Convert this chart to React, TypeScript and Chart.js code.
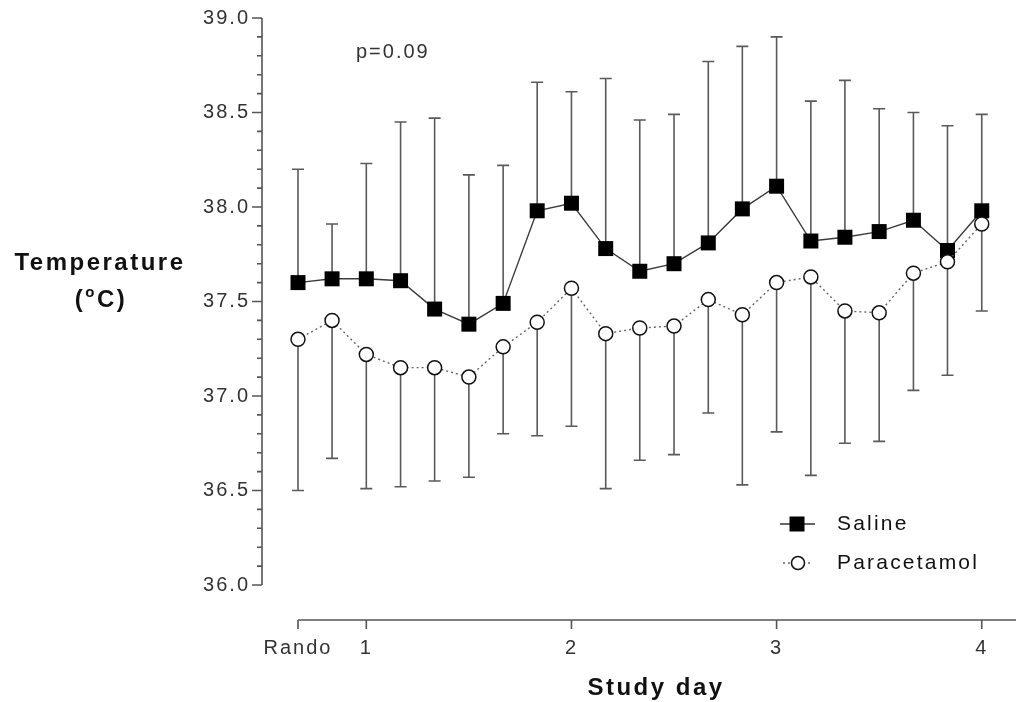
import React, { useEffect, useRef } from 'react';
import { Chart, registerables } from 'chart.js';

Chart.register(...registerables);

// Time points (study day; 4-hourly from randomisation)
const timePoints = [0.667, 0.833, 1.0, 1.167, 1.333, 1.5, 1.667, 1.833, 2.0, 2.167, 2.333, 2.5, 2.667, 2.833, 3.0, 3.167, 3.333, 3.5, 3.667, 3.833, 4.0];

const salineMean = [37.60, 37.62, 37.62, 37.61, 37.46, 37.38, 37.49, 37.98, 38.02, 37.78, 37.66, 37.70, 37.81, 37.99, 38.11, 37.82, 37.84, 37.87, 37.93, 37.77, 37.98];
const salineUpper = [38.20, 37.91, 38.23, 38.45, 38.47, 38.17, 38.22, 38.66, 38.61, 38.68, 38.46, 38.49, 38.77, 38.85, 38.90, 38.56, 38.67, 38.52, 38.50, 38.43, 38.49];

const paraMean = [37.30, 37.40, 37.22, 37.15, 37.15, 37.10, 37.26, 37.39, 37.57, 37.33, 37.36, 37.37, 37.51, 37.43, 37.60, 37.63, 37.45, 37.44, 37.65, 37.71, 37.91];
const paraLower = [36.50, 36.67, 36.51, 36.52, 36.55, 36.57, 36.80, 36.79, 36.84, 36.51, 36.66, 36.69, 36.91, 36.53, 36.81, 36.58, 36.75, 36.76, 37.03, 37.11, 37.45];

const xTickValues = [0.667, 1, 2, 3, 4];
const xTickLabels = ['Rando', '1', '2', '3', '4'];
const xMin = 0.667;
const xMax = 4.167;
const yMin = 36;
const yMax = 39;
const yMajorStep = 0.5;
const yMinorStep = 0.1;

const FONT = "'Liberation Sans', Arial, sans-serif";

const errorBarPlugin = {
  id: 'errorBars',
  beforeDatasetsDraw(chart: any) {
    const { ctx } = chart;
    const xs = chart.scales.x;
    const ys = chart.scales.y;
    ctx.save();
    ctx.strokeStyle = '#5a5a5a';
    ctx.lineWidth = 1.6;
    chart.data.datasets.forEach((ds: any) => {
      const ends: number[] = ds.errEnds;
      if (!ends) return;
      ds.data.forEach((pt: any, i: number) => {
        const px = xs.getPixelForValue(pt.x);
        const py0 = ys.getPixelForValue(pt.y);
        const py1 = ys.getPixelForValue(ends[i]);
        ctx.beginPath();
        ctx.moveTo(px, py0);
        ctx.lineTo(px, py1);
        ctx.moveTo(px - 6, py1);
        ctx.lineTo(px + 6, py1);
        ctx.stroke();
      });
    });
    ctx.restore();
  },
};

const decorPlugin = {
  id: 'decor',
  beforeDraw(chart: any) {
    chart.ctx.letterSpacing = '2px';
  },
  afterDraw(chart: any) {
    const { ctx } = chart;
    const xs = chart.scales.x;
    const ys = chart.scales.y;
    const area = chart.chartArea;
    ctx.save();
    ctx.strokeStyle = '#555';
    ctx.lineWidth = 1.6;

    // Y axis (detached to the left)
    const yAxisX = area.left - 36;
    const top = ys.getPixelForValue(yMax);
    const bottom = ys.getPixelForValue(yMin);
    ctx.beginPath();
    ctx.moveTo(yAxisX, top);
    ctx.lineTo(yAxisX, bottom);
    const nMinor = Math.round((yMax - yMin) / yMinorStep);
    const perMajor = Math.round(yMajorStep / yMinorStep);
    for (let k = 0; k <= nMinor; k++) {
      const py = ys.getPixelForValue(yMin + k * yMinorStep);
      const len = k % perMajor === 0 ? 10 : 5;
      ctx.moveTo(yAxisX - len, py);
      ctx.lineTo(yAxisX, py);
    }
    ctx.stroke();

    // X axis (detached below)
    const xAxisY = area.bottom + 35;
    ctx.beginPath();
    ctx.moveTo(xs.getPixelForValue(xMin), xAxisY);
    ctx.lineTo(xs.getPixelForValue(xMax), xAxisY);
    xTickValues.forEach((v) => {
      const px = xs.getPixelForValue(v);
      ctx.moveTo(px, xAxisY);
      ctx.lineTo(px, xAxisY + 9);
    });
    ctx.stroke();

    // Titles
    ctx.fillStyle = '#111';
    ctx.textAlign = 'center';
    ctx.textBaseline = 'middle';
    ctx.letterSpacing = '2.5px';
    ctx.font = `bold 24px ${FONT}`;
    ctx.fillText('Temperature', 100, 263);
    // (°C) with superscript o
    const parts = [
      { t: '(', f: `bold 24px ${FONT}`, dy: 0 },
      { t: 'o', f: `bold 15px ${FONT}`, dy: -7 },
      { t: 'C)', f: `bold 24px ${FONT}`, dy: 0 },
    ];
    let total = 0;
    parts.forEach((p) => { ctx.font = p.f; total += ctx.measureText(p.t).width; });
    let cx = 101 - total / 2;
    ctx.textAlign = 'left';
    parts.forEach((p) => {
      ctx.font = p.f;
      ctx.fillText(p.t, cx, 300 + p.dy);
      cx += ctx.measureText(p.t).width;
    });

    ctx.textAlign = 'center';
    ctx.font = `bold 24px ${FONT}`;
    ctx.fillText('Study day', 656, 688);

    // p value
    ctx.fillStyle = '#333';
    ctx.letterSpacing = '2px';
    ctx.font = `20px ${FONT}`;
    ctx.textAlign = 'left';
    ctx.fillText('p=0.09', 356, 52);

    // Legend
    ctx.strokeStyle = '#333';
    ctx.lineWidth = 1.5;
    ctx.beginPath();
    ctx.moveTo(780, 524);
    ctx.lineTo(815, 524);
    ctx.stroke();
    ctx.fillStyle = '#000';
    ctx.fillRect(797 - 7.5, 524 - 7.5, 15, 15);

    ctx.strokeStyle = '#666';
    ctx.setLineDash([2, 3]);
    ctx.beginPath();
    ctx.moveTo(783, 563);
    ctx.lineTo(813, 563);
    ctx.stroke();
    ctx.setLineDash([]);
    ctx.beginPath();
    ctx.arc(798, 563, 6.5, 0, Math.PI * 2);
    ctx.fillStyle = '#fff';
    ctx.fill();
    ctx.strokeStyle = '#111';
    ctx.lineWidth = 1.5;
    ctx.stroke();

    ctx.fillStyle = '#111';
    ctx.font = `21px ${FONT}`;
    ctx.letterSpacing = '2.2px';
    ctx.textAlign = 'left';
    ctx.fillText('Saline', 837, 524);
    ctx.fillText('Paracetamol', 837, 563);

    ctx.restore();
  },
};

export default function App() {
  const canvasRef = useRef<HTMLCanvasElement | null>(null);

  useEffect(() => {
    document.body.style.margin = '0';
    const canvas = canvasRef.current;
    if (!canvas) return;
    const chart = new Chart(canvas, {
      type: 'line',
      data: {
        datasets: [
          {
            label: 'Paracetamol',
            data: timePoints.map((t, i) => ({ x: t, y: paraMean[i] })),
            errEnds: paraLower,
            order: 0,
            clip: false,
            borderColor: '#666',
            borderWidth: 1.4,
            borderDash: [2, 3],
            pointStyle: 'circle',
            pointRadius: 7,
            pointBackgroundColor: '#fff',
            pointBorderColor: '#111',
            pointBorderWidth: 1.5,
            tension: 0,
          } as any,
          {
            label: 'Saline',
            data: timePoints.map((t, i) => ({ x: t, y: salineMean[i] })),
            errEnds: salineUpper,
            order: 1,
            clip: false,
            borderColor: '#3a3a3a',
            borderWidth: 1.4,
            pointStyle: 'rect',
            pointRadius: 10.6,
            pointBackgroundColor: '#000',
            pointBorderColor: '#000',
            pointBorderWidth: 0,
            tension: 0,
          } as any,
        ],
      },
      options: {
        animation: false,
        responsive: false,
        devicePixelRatio: 1,
        events: [],
        layout: { autoPadding: false, padding: { left: 0, right: 3, top: 18, bottom: 0 } },
        plugins: {
          legend: { display: false },
          tooltip: { enabled: false },
        },
        scales: {
          x: {
            type: 'linear',
            min: xMin,
            max: xMax,
            grid: { display: false, drawTicks: true, tickLength: 49 },
            border: { display: false },
            afterBuildTicks: (scale: any) => {
              scale.ticks = xTickValues.map((v) => ({ value: v }));
            },
            afterFit: (scale: any) => {
              scale.height = 117;
            },
            ticks: {
              autoSkip: false,
              maxRotation: 0,
              padding: 2,
              color: '#333',
              font: { family: FONT, size: 20 },
              callback: (_v: any, i: number) => xTickLabels[i],
            },
          },
          y: {
            type: 'linear',
            min: yMin,
            max: yMax,
            grid: { display: false, drawTicks: true, tickLength: 46 },
            border: { display: false },
            afterFit: (scale: any) => {
              scale.width = 298;
            },
            ticks: {
              stepSize: yMajorStep,
              padding: 2,
              color: '#333',
              font: { family: FONT, size: 20 },
              callback: (v: any) => Number(v).toFixed(1),
            },
          },
        },
      },
      plugins: [errorBarPlugin, decorPlugin],
    } as any);
    return () => chart.destroy();
  }, []);

  return (
    <div style={{ position: 'fixed', left: 0, top: 0, width: 1019, height: 702, background: '#fff' }}>
      <canvas ref={canvasRef} width={1019} height={702} style={{ display: 'block', width: 1019, height: 702 }} />
    </div>
  );
}
